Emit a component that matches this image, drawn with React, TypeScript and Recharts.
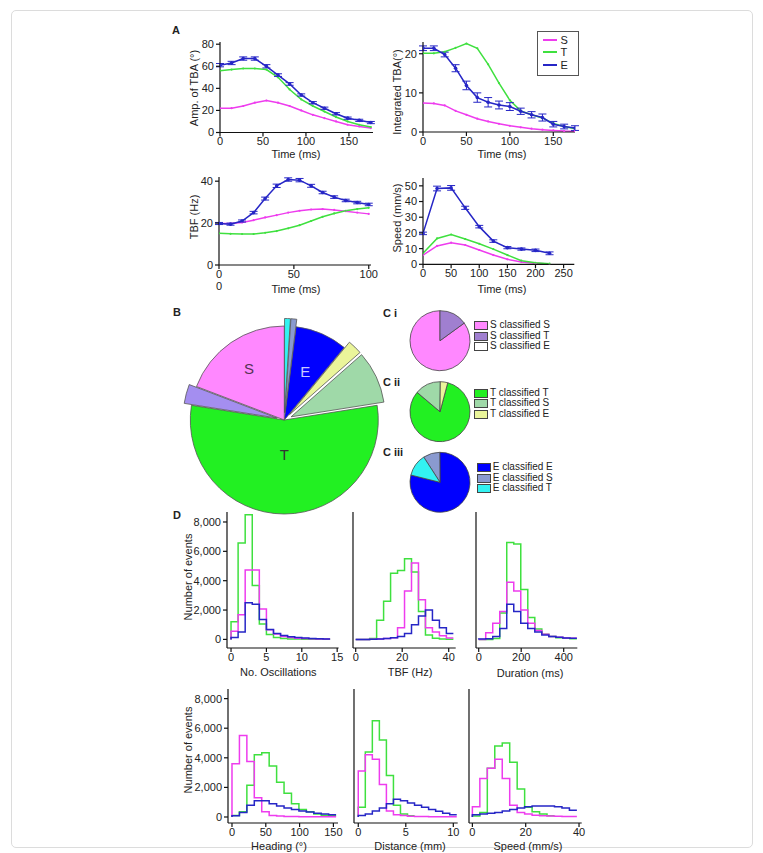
import React from 'react';
import { LineChart, Line, XAxis, YAxis, ErrorBar, PieChart, Pie, Cell } from 'recharts';

const FONT = '"Liberation Sans", Arial, Helvetica, sans-serif';
const INK = '#222';
const PINK = '#ee3cee';
const GREEN = '#3fe03f';
const BLUE = '#2626c6';

// ---- A: kinematics over time ----
const ampTime = [0, 13.5, 27, 40.5, 54, 67.5, 81, 94.5, 108, 121.5, 135, 148.5, 162, 175.5];
const ampS = [22, 22, 24, 27, 29, 27, 24, 20, 16, 13, 10, 7, 5.5, 4];
const ampT = [56, 57, 58, 58, 57, 50, 39, 30, 24, 19, 14, 10, 7, 5];
const ampE = [61, 63, 67, 67, 60, 52, 44, 34, 27, 22, 17, 13, 11, 9];
const ampEErr = [1.5, 1.5, 1.5, 1.5, 1.5, 1.2, 1.2, 1, 1, 1, 1, 1, 1, 1];

const intTime = [0, 12.5, 25, 37.5, 50, 62.5, 75, 87.5, 100, 112.5, 125, 137.5, 150, 162.5, 175];
const intS = [7.4, 7.3, 6.8, 5.4, 4.4, 3.4, 2.7, 2.1, 1.6, 1.2, 0.85, 0.6, 0.4, 0.25, 0.2];
const intT = [20.1, 20.1, 20.5, 21.5, 22.6, 21.4, 17.3, 12.5, 8.1, 5.4, 4.4, 3.6, 2.2, 1.4, 0.8];
const intE = [21.4, 21.4, 19.8, 16.3, 11.9, 8.8, 7.6, 6.9, 6.5, 5.3, 4.4, 3.7, 2.0, 1.4, 1.0];
const intEErr = [0.6, 0.6, 0.6, 0.9, 1.1, 1.2, 1.2, 1.0, 1.0, 0.8, 0.8, 0.9, 0.7, 0.6, 0.6];

const tbfTime = [0, 7.7, 15.4, 23.1, 30.8, 38.5, 46.2, 53.8, 61.5, 69.2, 76.9, 84.6, 92.3, 100];
const tbfS = [19.8, 19.8, 20.3, 21.4, 22.7, 23.8, 25, 25.9, 26.5, 26.7, 26.3, 25.7, 25, 24.4];
const tbfT = [15.1, 14.9, 14.8, 14.8, 15.4, 16.2, 17.5, 19, 21, 23, 24.6, 25.9, 26.7, 27.3];
const tbfE = [19.8, 19.5, 21, 25, 31.7, 37.8, 40.8, 40.5, 37.8, 34.6, 32.4, 30.8, 29.8, 28.9];
const tbfEErr = [0.5, 0.5, 0.5, 0.6, 0.7, 0.8, 0.8, 0.8, 0.7, 0.6, 0.6, 0.6, 0.6, 0.6];

const spdTime = [0, 25, 50, 75, 100, 125, 150, 175, 200, 225];
const spdS = [5.9, 11.7, 13.8, 12.3, 9.1, 5.9, 3.2, 1.5, 0.6, 0.2];
const spdT = [7, 16.5, 19, 16.1, 13.1, 9.7, 5.9, 2.3, 1, 0.4];
const spdE = [19.7, 48.3, 48.7, 36, 24, 14.8, 10.6, 9.7, 8.9, 7];
const spdEErr = [0.8, 1.5, 1.5, 1, 0.8, 0.8, 0.7, 0.7, 0.8, 0.9];

// ---- B / C: classification shares (%) ----
const mainNames = ['E classified T', 'E classified S', 'E', 'T classified E', 'T classified S', 'T', 'S classified T', 'S'];
const mainShares = [1.0, 1.0, 9.0, 2.5, 9.0, 55.0, 3.3, 19.2];

const ciNames = ['S classified S', 'S classified T', 'S classified E'];
const ciShares = [85, 15, 0];
const ciiNames = ['T classified T', 'T classified S', 'T classified E'];
const ciiShares = [82, 14, 4];
const ciiiNames = ['E classified E', 'E classified S', 'E classified T'];
const ciiiShares = [79, 9, 12];

// ---- D: event histograms (bin edges, counts per bin) ----
const oscEdges = [0, 1, 2, 3, 4, 5, 6, 7, 8, 9, 10, 11, 12, 13, 14];
const oscS = [550, 1680, 4730, 4730, 2070, 660, 360, 200, 130, 80, 60, 40, 30, 20];
const oscT = [1200, 6570, 8500, 3680, 1050, 330, 130, 60, 30, 20, 10, 10, 5, 5];
const oscE = [130, 500, 2500, 2400, 1360, 680, 400, 270, 180, 130, 90, 60, 40, 30];

const freqEdges = [0, 3, 6, 9, 12, 15, 18, 21, 24, 27, 30, 33, 36, 39, 42];
const freqS = [0, 0, 10, 30, 60, 120, 800, 3300, 5200, 2700, 800, 500, 250, 100];
const freqT = [0, 0, 60, 1300, 2600, 4500, 4700, 5500, 4600, 1900, 300, 80, 30, 10];
const freqE = [0, 0, 10, 30, 60, 120, 200, 400, 1000, 1600, 2000, 1300, 800, 400];

const durEdges = [0, 33, 66, 99, 132, 165, 198, 231, 264, 297, 330, 363, 396, 429, 462];
const durS = [0, 450, 1100, 1900, 3900, 3300, 2000, 1100, 600, 350, 200, 150, 100, 80];
const durT = [0, 0, 60, 1800, 6600, 6500, 3400, 1500, 700, 350, 200, 120, 80, 50];
const durE = [20, 50, 200, 750, 2400, 1900, 1100, 750, 500, 300, 200, 150, 100, 80];

const hdgEdges = [0, 11, 22, 33, 44, 55, 66, 77, 88, 99, 110, 121, 132, 143, 154];
const hdgS = [3600, 5500, 3750, 1300, 350, 100, 60, 40, 30, 20, 20, 10, 10, 10];
const hdgT = [100, 350, 2150, 4200, 4350, 3450, 2350, 1600, 900, 500, 350, 200, 120, 80];
const hdgE = [80, 300, 800, 1100, 1100, 900, 750, 600, 500, 400, 330, 250, 200, 150];

const distEdges = [0, 0.74, 1.48, 2.22, 2.96, 3.7, 4.44, 5.18, 5.92, 6.66, 7.4, 8.14, 8.88, 9.62, 10.36];
const distS = [3100, 4200, 3900, 2200, 400, 150, 100, 50, 40, 30, 20, 20, 10, 10];
const distT = [650, 4400, 6500, 5200, 2800, 800, 200, 80];
const distE = [100, 200, 400, 600, 900, 1200, 1100, 950, 800, 650, 500, 380, 250, 150];

const velEdges = [0, 2.8, 5.6, 8.4, 11.2, 14, 16.8, 19.6, 22.4, 25.2, 28, 30.8, 33.6, 36.4, 39.2];
const velS = [700, 2600, 3300, 3900, 2600, 800, 300, 200, 120, 80, 60, 50, 40, 30];
const velT = [70, 300, 3300, 4800, 5000, 3700, 1900, 650, 350, 200, 80];
const velE = [150, 200, 250, 300, 400, 500, 600, 700, 750, 750, 750, 700, 600, 450];

const countTicks = [0, 2000, 4000, 6000, 8000];

type Row = Record<string, number | undefined>;

function seriesRows(x: number[], cols: Record<string, number[]>): Row[] {
  return x.map((v, i) => {
    const r: Row = { x: v };
    Object.keys(cols).forEach((k) => (r[k] = cols[k][i]));
    return r;
  });
}

// step outline: first row closes the left edge at zero, each later row holds the bin ending at that edge
function histRows(edges: number[], cols: Record<string, number[]>): Row[] {
  return edges.map((e, i) => {
    const r: Row = { x: e };
    Object.keys(cols).forEach((k) => {
      r[k] = i === 0 ? 0 : cols[k][i - 1];
    });
    return r;
  });
}

type Box = { left: number; top: number; width: number; height: number };
const PAD_L = 44;
const PAD_R = 8;
const PAD_T = 6;
const PAD_B = 24;
const axisStroke = { stroke: '#111', strokeWidth: 1.2 };
const tickStyle = { fontSize: 11, fill: INK, fontFamily: FONT };

function Plot(props: {
  box: Box;
  rows: Row[];
  xDomain: [number, number];
  xTicks: number[];
  yDomain: [number, number];
  yTicks: number[];
  yLabels?: boolean;
  yFormat?: (v: number) => string;
  children: React.ReactNode;
}) {
  const { box, rows, xDomain, xTicks, yDomain, yTicks, yLabels = true, yFormat, children } = props;
  return (
    <div style={{ position: 'absolute', left: box.left - PAD_L, top: box.top - PAD_T }}>
      <LineChart
        width={box.width + PAD_L + PAD_R}
        height={box.height + PAD_T + PAD_B}
        data={rows}
        margin={{ top: PAD_T, right: PAD_R, bottom: 0, left: 0 }}
      >
        <XAxis
          type="number"
          dataKey="x"
          domain={xDomain}
          ticks={xTicks}
          interval={0}
          allowDataOverflow
          height={PAD_B}
          axisLine={axisStroke}
          tickLine={axisStroke}
          tickSize={4}
          tickMargin={1}
          tick={tickStyle}
        />
        <YAxis
          type="number"
          domain={yDomain}
          ticks={yTicks}
          interval={0}
          allowDataOverflow
          width={PAD_L}
          axisLine={axisStroke}
          tickLine={axisStroke}
          tickSize={4}
          tick={yLabels ? tickStyle : false}
          tickFormatter={yFormat}
        />
        {children}
      </LineChart>
    </div>
  );
}

function kinematicLines(withErr: boolean) {
  return [
    <Line key="S" dataKey="S" stroke={PINK} strokeWidth={1.5} dot={{ r: 1.1, fill: PINK, strokeWidth: 0 }} isAnimationActive={false} />,
    <Line key="T" dataKey="T" stroke={GREEN} strokeWidth={1.5} dot={{ r: 1.1, fill: GREEN, strokeWidth: 0 }} isAnimationActive={false} />,
    <Line key="E" dataKey="E" stroke={BLUE} strokeWidth={1.5} dot={{ r: 1.8, fill: BLUE, strokeWidth: 0 }} isAnimationActive={false}>
      {withErr && <ErrorBar dataKey="err" width={4} stroke={BLUE} strokeWidth={1} direction="y" />}
    </Line>,
  ];
}

function histLines() {
  return [
    <Line key="T" type="stepBefore" dataKey="T" stroke={GREEN} strokeWidth={1.5} dot={false} isAnimationActive={false} />,
    <Line key="S" type="stepBefore" dataKey="S" stroke={PINK} strokeWidth={1.5} dot={false} isAnimationActive={false} />,
    <Line key="E" type="stepBefore" dataKey="E" stroke={BLUE} strokeWidth={1.5} dot={false} isAnimationActive={false} />,
  ];
}

function Txt(props: { x: number; y: number; children: React.ReactNode; rotate?: number; size?: number; bold?: boolean; left?: boolean; color?: string }) {
  const { x, y, children, rotate, size = 11, bold, left, color = INK } = props;
  const shift = left ? 'translate(0, -50%)' : 'translate(-50%, -50%)';
  return (
    <div
      style={{
        position: 'absolute',
        left: x,
        top: y,
        transform: rotate ? `${shift} rotate(${rotate}deg)` : shift,
        fontFamily: FONT,
        fontSize: size,
        fontWeight: bold ? 700 : 400,
        color,
        whiteSpace: 'nowrap',
        lineHeight: 1,
      }}
    >
      {children}
    </div>
  );
}

const mainColors = ['#33f2f2', '#8a9ad0', '#0000ff', '#eaf59a', '#9fd9a8', '#22f022', '#a48ef0', '#ff88ff'];
const mainExploded = [true, true, false, true, true, false, true, false];
const mainLabelDepth: Record<string, number> = { S: 0.66, E: 0.56, T: 0.37 };
const mainLabelColor: Record<string, string> = { S: '#553355', E: '#c8c8ff', T: '#333' };
const B_CX = 129.3;
const B_CY = 115;
const B_R = 94;
const EXPLODE = 7.5;
const RAD = Math.PI / 180;

const mainRows = mainNames.map((name, i) => ({ name, value: mainShares[i] }));
const mainTotal = mainShares.reduce((a, b) => a + b, 0);
const mainOffsets = mainShares.map((v, i) => {
  const before = mainShares.slice(0, i).reduce((a, b) => a + b, 0);
  const mid = ((before + v / 2) / mainTotal) * 2 * Math.PI;
  return { dx: EXPLODE * Math.sin(mid), dy: -EXPLODE * Math.cos(mid) };
});

function mainLabel(p: any) {
  const depth = mainLabelDepth[p.name];
  if (depth === undefined) return null;
  const r = B_R * depth;
  const x = p.cx + r * Math.cos(-p.midAngle * RAD);
  const y = p.cy + r * Math.sin(-p.midAngle * RAD);
  return (
    <text x={x} y={y} textAnchor="middle" dominantBaseline="central" fontFamily={FONT} fontSize={15} fill={mainLabelColor[p.name]}>
      {p.name}
    </text>
  );
}

const ciColors = ['#ff88ff', '#a07fd0', '#ffffff'];
const ciiColors = ['#22f022', '#9fd9a8', '#eaf59a'];
const ciiiColors = ['#0000ff', '#8a9ad0', '#33f2f2'];

function SmallPie(props: { names: string[]; shares: number[]; colors: string[]; cy: number; start: number; end: number }) {
  const rows = props.names.map((name, i) => ({ name, value: props.shares[i] }));
  return (
    <Pie
      data={rows}
      dataKey="value"
      nameKey="name"
      cx={35}
      cy={props.cy}
      outerRadius={30}
      startAngle={props.start}
      endAngle={props.end}
      isAnimationActive={false}
    >
      {rows.map((r, i) => (
        <Cell key={r.name} fill={props.colors[i]} stroke="#444" strokeWidth={0.8} />
      ))}
    </Pie>
  );
}

function SwatchLegend(props: { x: number; ys: number[]; names: string[]; colors: string[] }) {
  return (
    <>
      {props.names.map((n, i) => (
        <div key={n}>
          <div
            style={{
              position: 'absolute',
              left: props.x,
              top: props.ys[i] - 4,
              width: 12,
              height: 7,
              background: props.colors[i],
              border: '1px solid #444',
            }}
          />
          <Txt x={props.x + 16} y={props.ys[i]} size={10} left>
            {n}
          </Txt>
        </div>
      ))}
    </>
  );
}

export default function App() {
  return (
    <div style={{ position: 'absolute', left: 0, top: 0, width: 763, height: 853, background: '#fff', overflow: 'hidden' }}>
      <div style={{ position: 'absolute', left: 11, top: 10, width: 740, height: 836, border: '1px solid #dcdcdc', borderRadius: 5 }} />

      {/* A */}
      <Txt x={176} y={30} bold>A</Txt>
      <Plot box={{ left: 220, top: 42, width: 153, height: 90.5 }} rows={seriesRows(ampTime, { S: ampS, T: ampT, E: ampE, err: ampEErr })}
        xDomain={[0, 178]} xTicks={[0, 50, 100, 150]} yDomain={[0, 82]} yTicks={[0, 20, 40, 60, 80]}>
        {kinematicLines(true)}
      </Plot>
      <Txt x={194} y={88} rotate={-90}>Amp. of  TBA (°)</Txt>
      <Txt x={296} y={153.5}>Time (ms)</Txt>

      <Plot box={{ left: 422.7, top: 42, width: 152, height: 90 }} rows={seriesRows(intTime, { S: intS, T: intT, E: intE, err: intEErr })}
        xDomain={[0, 175]} xTicks={[0, 50, 100, 150]} yDomain={[0, 23]} yTicks={[0, 10, 20]}>
        {kinematicLines(true)}
      </Plot>
      <Txt x={397} y={92} rotate={-90}>Integrated TBA(°)</Txt>
      <Txt x={502} y={153.5}>Time (ms)</Txt>
      <div style={{ position: 'absolute', left: 536.7, top: 31, width: 40, height: 43, border: '1px solid #555', background: '#fff' }} />
      {[
        { n: 'S', c: PINK, y: 39.5 },
        { n: 'T', c: GREEN, y: 52 },
        { n: 'E', c: BLUE, y: 64.5 },
      ].map((e) => (
        <div key={e.n}>
          <div style={{ position: 'absolute', left: 542.7, top: e.y - 1, width: 14, height: 2.2, background: e.c }} />
          <Txt x={560.5} y={e.y} left>{e.n}</Txt>
        </div>
      ))}

      <Plot box={{ left: 219.3, top: 177, width: 152, height: 88 }} rows={seriesRows(tbfTime, { S: tbfS, T: tbfT, E: tbfE, err: tbfEErr })}
        xDomain={[0, 101.5]} xTicks={[0, 50, 100]} yDomain={[0, 42]} yTicks={[0, 20, 40]}>
        {kinematicLines(true)}
      </Plot>
      <Txt x={219} y={285.5}>0</Txt>
      <Txt x={194} y={217} rotate={-90}>TBF (Hz)</Txt>
      <Txt x={296} y={288.5}>Time (ms)</Txt>

      <Plot box={{ left: 422.7, top: 178, width: 151.3, height: 86.3 }} rows={seriesRows(spdTime, { S: spdS, T: spdT, E: spdE, err: spdEErr })}
        xDomain={[0, 269]} xTicks={[0, 50, 100, 150, 200, 250]} yDomain={[0, 55]} yTicks={[0, 10, 20, 30, 40, 50]}>
        {kinematicLines(true)}
      </Plot>
      <Txt x={397} y={218} rotate={-90}>Speed (mm/s)</Txt>
      <Txt x={502} y={288.5}>Time (ms)</Txt>

      {/* B */}
      <Txt x={177} y={312} bold>B</Txt>
      <div style={{ position: 'absolute', left: 150, top: 300 }}>
        <PieChart width={250} height={230}>
          <Pie data={mainRows} dataKey="value" nameKey="name" cx={B_CX} cy={B_CY} outerRadius={B_R} startAngle={90} endAngle={-270}
            isAnimationActive={false} label={mainLabel} labelLine={false}>
            {mainRows.map((r, i) => (
              <Cell key={r.name} fill={mainExploded[i] ? 'none' : mainColors[i]} stroke={mainExploded[i] ? 'none' : '#555'} strokeWidth={0.8} />
            ))}
          </Pie>
          {mainRows.map((r, i) =>
            mainExploded[i] ? (
              <Pie key={r.name} data={mainRows} dataKey="value" nameKey="name" cx={B_CX + mainOffsets[i].dx} cy={B_CY + mainOffsets[i].dy}
                outerRadius={B_R} startAngle={90} endAngle={-270} isAnimationActive={false}>
                {mainRows.map((q, j) => (
                  <Cell key={q.name} fill={j === i ? mainColors[j] : 'none'} stroke={j === i ? '#555' : 'none'} strokeWidth={0.8} />
                ))}
              </Pie>
            ) : null
          )}
        </PieChart>
      </div>

      {/* C */}
      <Txt x={383} y={313} bold left>C i</Txt>
      <Txt x={383} y={382} bold left>C ii</Txt>
      <Txt x={383} y={452} bold left>C iii</Txt>
      <div style={{ position: 'absolute', left: 400, top: 300 }}>
        <PieChart width={75} height={215}>
          {SmallPie({ names: ciNames, shares: ciShares, colors: ciColors, cy: 35.7, start: 36, end: -324 })}
          {SmallPie({ names: ciiNames, shares: ciiShares, colors: ciiColors, cy: 106.7, start: 75, end: -285 })}
          {SmallPie({ names: ciiiNames, shares: ciiiShares, colors: ciiiColors, cy: 177.3, start: 166, end: 526 })}
        </PieChart>
      </div>
      <SwatchLegend x={474} ys={[325, 335.7, 346.4]} names={ciNames} colors={ciColors} />
      <SwatchLegend x={474} ys={[392.7, 403.3, 414]} names={ciiNames} colors={ciiColors} />
      <SwatchLegend x={476.7} ys={[467, 477.6, 488.2]} names={ciiiNames} colors={ciiiColors} />

      {/* D */}
      <Txt x={177} y={515} bold>D</Txt>
      <Plot box={{ left: 226.7, top: 512.3, width: 111.6, height: 136 }} rows={histRows(oscEdges, { S: oscS, T: oscT, E: oscE })}
        xDomain={[-0.57, 15.2]} xTicks={[0, 5, 10, 15]} yDomain={[-586, 8680]} yTicks={countTicks} yFormat={(v) => v.toLocaleString('en-US')}>
        {histLines()}
      </Plot>
      <Txt x={188.3} y={577} rotate={-90}>Number of events</Txt>
      <Txt x={278.3} y={671.5}>No. Oscillations</Txt>

      <Plot box={{ left: 353.3, top: 512.3, width: 102.7, height: 136 }} rows={histRows(freqEdges, { S: freqS, T: freqT, E: freqE })}
        xDomain={[-1.16, 43]} xTicks={[0, 20, 40]} yDomain={[-586, 8680]} yTicks={countTicks} yLabels={false}>
        {histLines()}
      </Plot>
      <Txt x={410} y={671.5}>TBF (Hz)</Txt>

      <Plot box={{ left: 476, top: 512.3, width: 101.3, height: 136 }} rows={histRows(durEdges, { S: durS, T: durT, E: durE })}
        xDomain={[-12.7, 464]} xTicks={[0, 200, 400]} yDomain={[-586, 8680]} yTicks={countTicks} yLabels={false}>
        {histLines()}
      </Plot>
      <Txt x={530} y={673}>Duration (ms)</Txt>

      <Plot box={{ left: 228.3, top: 689.3, width: 110, height: 134 }} rows={histRows(hdgEdges, { S: hdgS, T: hdgT, E: hdgE })}
        xDomain={[-5.9, 156.8]} xTicks={[0, 50, 100, 150]} yDomain={[-406, 8650]} yTicks={countTicks} yFormat={(v) => v.toLocaleString('en-US')}>
        {histLines()}
      </Plot>
      <Txt x={188.3} y={750} rotate={-90}>Number of events</Txt>
      <Txt x={279} y={846}>Heading (°)</Txt>

      <Plot box={{ left: 354, top: 689.3, width: 103.7, height: 134 }} rows={histRows(distEdges, { S: distS, T: distT, E: distE })}
        xDomain={[-0.45, 10.46]} xTicks={[0, 5, 10]} yDomain={[-406, 8650]} yTicks={countTicks} yLabels={false}>
        {histLines()}
      </Plot>
      <Txt x={410} y={846}>Distance (mm)</Txt>

      <Plot box={{ left: 469.3, top: 689.3, width: 112.7, height: 134 }} rows={histRows(velEdges, { S: velS, T: velT, E: velE })}
        xDomain={[-1.27, 41]} xTicks={[0, 20, 40]} yDomain={[-406, 8650]} yTicks={countTicks} yLabels={false}>
        {histLines()}
      </Plot>
      <Txt x={528} y={846}>Speed (mm/s)</Txt>
    </div>
  );
}
